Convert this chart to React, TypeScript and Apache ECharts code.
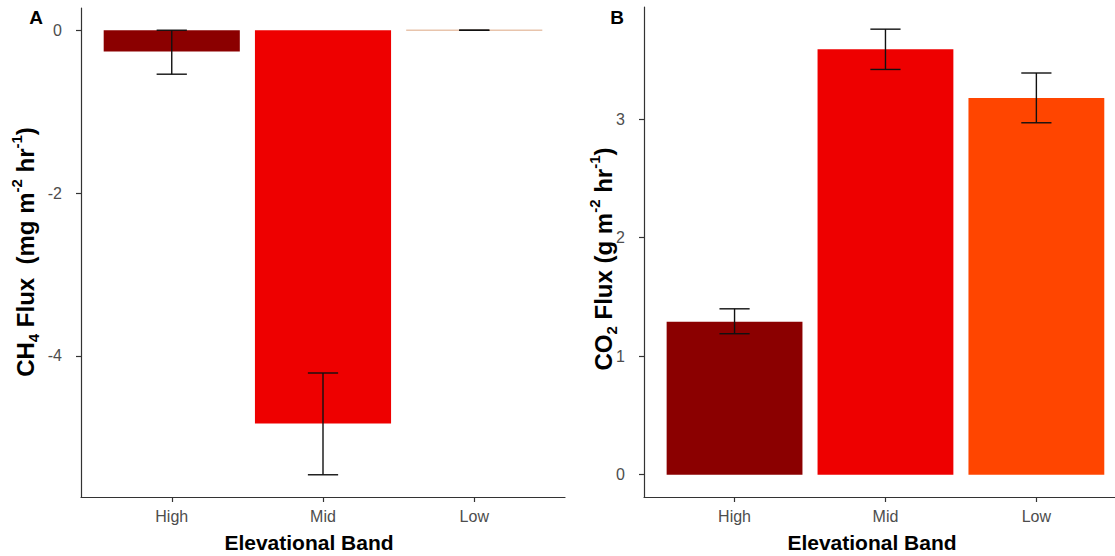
import React, { useEffect, useRef } from "react";
import * as echarts from "echarts";

const categories = ["High", "Mid", "Low"];
const barColors = ["#8B0000", "#EE0000", "#FF4500"];

// Panel A: CH4 flux (mean, lower, upper)
const ch4Mean = [-0.26, -4.83, 0.0];
const ch4Lower = [-0.54, -5.46, 0.0];
const ch4Upper = [0.0, -4.21, 0.0];
const ch4Ticks = [-4, -2, 0];

// Panel B: CO2 flux (mean, lower, upper)
const co2Mean = [1.29, 3.59, 3.18];
const co2Lower = [1.19, 3.42, 2.97];
const co2Upper = [1.4, 3.76, 3.39];
const co2Ticks = [0, 1, 2, 3];

const FONT = "Liberation Sans, Arial, sans-serif";
const AXIS = "#333333";
const LABEL = "#4D4D4D";

const barRender = (params: any, api: any) => {
  const x = api.value(0);
  const v = api.value(1);
  const p1 = api.coord([x - 0.45, v]);
  const p2 = api.coord([x + 0.45, 0]);
  const y = Math.min(p1[1], p2[1]);
  const h = Math.abs(p2[1] - p1[1]);
  if (h < 0.8) {
    return {
      type: "line",
      shape: { x1: p1[0], y1: p2[1], x2: p2[0], y2: p2[1] },
      style: { stroke: "#E8C4AC", lineWidth: 1.3 },
    };
  }
  return {
    type: "rect",
    shape: { x: p1[0], y, width: p2[0] - p1[0], height: h },
    style: { fill: barColors[params.dataIndex] },
  };
};

const errRender = (_params: any, api: any) => {
  const x = api.value(0);
  const lo = api.coord([x, api.value(1)]);
  const hi = api.coord([x, api.value(2)]);
  const l = api.coord([x - 0.1, api.value(1)]);
  const r = api.coord([x + 0.1, api.value(1)]);
  const st = { stroke: "#111", lineWidth: 1.4 };
  return {
    type: "group",
    children: [
      { type: "line", shape: { x1: lo[0], y1: lo[1], x2: hi[0], y2: hi[1] }, style: st },
      { type: "line", shape: { x1: l[0], y1: lo[1], x2: r[0], y2: lo[1] }, style: st },
      { type: "line", shape: { x1: l[0], y1: hi[1], x2: r[0], y2: hi[1] }, style: st },
    ],
  };
};

const xAxisFor = (gridIndex: number, max: number) => ({
  type: "value",
  gridIndex,
  min: 0.4,
  max,
  splitLine: { show: false },
  axisLine: { show: true, onZero: false, lineStyle: { color: AXIS, width: 1.2 } },
  axisTick: { show: true, length: 5, customValues: [1, 2, 3], lineStyle: { color: AXIS, width: 1.2 } },
  axisLabel: {
    customValues: [1, 2, 3],
    formatter: (v: number) => categories[Math.round(v) - 1] ?? "",
    color: LABEL,
    fontFamily: FONT,
    fontSize: 16,
    margin: 11,
  },
});

const yAxisFor = (gridIndex: number, min: number, max: number, ticks: number[]) => ({
  type: "value",
  gridIndex,
  min,
  max,
  splitLine: { show: false },
  axisLine: { show: true, onZero: false, lineStyle: { color: AXIS, width: 1.2 } },
  axisTick: { show: true, length: 5, customValues: ticks, lineStyle: { color: AXIS, width: 1.2 } },
  axisLabel: {
    customValues: ticks,
    color: LABEL,
    fontFamily: FONT,
    fontSize: 16,
    margin: 19,
  },
});

const rich = {
  n: { fontSize: 24, fontWeight: "bold", fontFamily: FONT, color: "#000", lineHeight: 32 },
  sup: { fontSize: 15, fontWeight: "bold", fontFamily: FONT, color: "#000", verticalAlign: "top", lineHeight: 15 },
  sub: { fontSize: 15, fontWeight: "bold", fontFamily: FONT, color: "#000", verticalAlign: "bottom", lineHeight: 15 },
};

export default function App() {
  const ref = useRef<HTMLDivElement>(null);
  useEffect(() => {
    if (!ref.current) return;
    const chart = echarts.init(ref.current, undefined, { renderer: "svg" });
    const ch4Bars = ch4Mean.map((v, i) => [i + 1, v]);
    const ch4Err = ch4Mean.map((_, i) => [i + 1, ch4Lower[i], ch4Upper[i]]);
    const co2Bars = co2Mean.map((v, i) => [i + 1, v]);
    const co2Err = co2Mean.map((_, i) => [i + 1, co2Lower[i], co2Upper[i]]);
    chart.setOption({
      animation: false,
      backgroundColor: "#ffffff",
      grid: [
        { left: 81, top: 8, width: 484, height: 489 },
        { left: 644, top: 7, width: 471, height: 490 },
      ],
      xAxis: [xAxisFor(0, 3.6), xAxisFor(1, 3.521)],
      yAxis: [yAxisFor(0, -5.733, 0.273, ch4Ticks), yAxisFor(1, -0.188, 3.947, co2Ticks)],
      series: [
        { type: "custom", xAxisIndex: 0, yAxisIndex: 0, data: ch4Bars, encode: { x: 0, y: 1 }, renderItem: barRender },
        { type: "custom", xAxisIndex: 0, yAxisIndex: 0, data: ch4Err, encode: { x: 0, y: [1, 2] }, renderItem: errRender, z: 5 },
        { type: "custom", xAxisIndex: 1, yAxisIndex: 1, data: co2Bars, encode: { x: 0, y: 1 }, renderItem: barRender },
        { type: "custom", xAxisIndex: 1, yAxisIndex: 1, data: co2Err, encode: { x: 0, y: [1, 2] }, renderItem: errRender, z: 5 },
      ],
      graphic: [
        { type: "text", x: 36, y: 17, style: { text: "A", font: `bold 19px ${FONT}`, fill: "#000", align: "center", verticalAlign: "middle" } },
        { type: "text", x: 617, y: 17, style: { text: "B", font: `bold 19px ${FONT}`, fill: "#000", align: "center", verticalAlign: "middle" } },
        { type: "text", x: 309, y: 542, style: { text: "Elevational Band", font: `bold 21px ${FONT}`, fill: "#000", align: "center", verticalAlign: "middle" } },
        { type: "text", x: 872, y: 542, style: { text: "Elevational Band", font: `bold 21px ${FONT}`, fill: "#000", align: "center", verticalAlign: "middle" } },
        {
          type: "text", x: 25, y: 252, rotation: Math.PI / 2,
          style: { text: "{n|CH}{sub|4}{n| Flux  (mg m}{sup|-2}{n| hr}{sup|-1}{n|)}", rich, align: "center", verticalAlign: "middle" },
        },
        {
          type: "text", x: 603, y: 259, rotation: Math.PI / 2,
          style: { text: "{n|CO}{sub|2}{n| Flux (g m}{sup|-2}{n| hr}{sup|-1}{n|)}", rich, align: "center", verticalAlign: "middle" },
        },
      ],
    });
    return () => chart.dispose();
  }, []);
  return (
    <div
      ref={ref}
      style={{ position: "fixed", left: 0, top: 0, width: 1115, height: 556, background: "#fff" }}
    />
  );
}
